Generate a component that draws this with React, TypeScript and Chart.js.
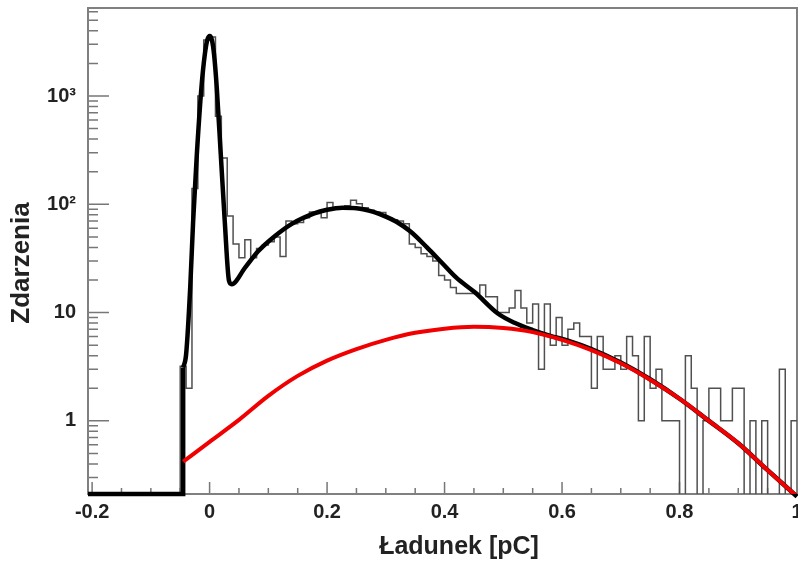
import React, { useEffect, useRef } from "react";
import { Chart, registerables } from "chart.js";

Chart.register(...registerables);

// ---- axis ranges ----
const X_MIN = -0.207;
const X_MAX = 1.0;
const Y_MIN = 0.211;
const Y_MAX = 6500;

// ---- ticks ----
const xMajorTicks = [-0.2, 0, 0.2, 0.4, 0.6, 0.8, 1.0];
const xTickLabels = ["-0.2", "0", "0.2", "0.4", "0.6", "0.8", "1"];
const xMinorTicks = [-0.15, -0.1, -0.05, 0.05, 0.1, 0.15, 0.25, 0.3, 0.35, 0.45, 0.5, 0.55, 0.65, 0.7, 0.75, 0.85, 0.9, 0.95];
const yMajorTicks = [1, 10, 100, 1000];
const yTickLabels = ["1", "10", "10²", "10³"];
const yDecades = [0.1, 1, 10, 100, 1000];
const yMantissas = [2, 3, 4, 5, 6, 7, 8, 9];

// ---- histogram (TH1: bins of 0.01 starting at -0.05) ----
const histLow = -0.05;
const binWidth = 0.01;
const histCounts = [
  3.2, 2, 140, 1000, 3300, 3500, 650, 267, 78, 43,
  32, 47, 32, 39, 42, 45, 50, 33, 70, 66,
  68, 75, 85, 82, 75, 104, 90, 92, 97, 109,
  101, 93, 88, 85, 84, 75, 72, 70, 66, 43,
  40, 35, 33, 30, 22, 20, 17, 15, 15, 15,
  15, 18, 14, 14, 10, 10, 11, 16, 11, 8,
  12, 3, 12, 5, 9, 5, 7, 8, 6, 6,
  2, 6, 3, 3, 4, 3, 6, 4, 1, 6,
  2, 3, 1, 1, 1, 0, 4, 2, 0, 1,
  2, 2, 1, 1, 2, 2, 0, 1, 0, 1,
  0, 0, 3, 0, 1,
];

// ---- total fit (black) ----
const fitX = [
  -0.207, -0.045, -0.045, -0.040, -0.033, -0.028, -0.0217, -0.0139, -0.0081, -0.004,
  0.0003, 0.004, 0.0076, 0.0122, 0.019, 0.0258, 0.0331, 0.0376, 0.0604, 0.083,
  0.1114, 0.14, 0.177, 0.2, 0.226, 0.25, 0.279, 0.3, 0.318, 0.342,
  0.37, 0.395, 0.42, 0.452, 0.4907, 0.52, 0.55, 0.58, 0.61, 0.65,
  0.7, 0.75, 0.8, 0.85, 0.9, 0.95, 1.0,
];
const fitY = [
  0.211, 0.211, 3.1, 4.1, 17, 70, 290, 1195, 2430, 3280,
  3590, 3280, 2430, 1195, 290, 70, 19.6, 18.3, 26, 37,
  51, 66, 82, 89, 93, 92, 85, 77, 69, 56,
  40, 29, 21, 15.3, 9.8, 8.0, 6.9, 6.1, 5.5, 4.6,
  3.45, 2.42, 1.6, 1.0, 0.62, 0.35, 0.2,
];

// ---- component (red) ----
const redX = [-0.045, 0, 0.05, 0.1, 0.15, 0.2, 0.25, 0.3, 0.35, 0.4, 0.45, 0.5, 0.55, 0.6, 0.65, 0.7, 0.75, 0.8, 0.85, 0.9, 0.95, 1.0];
const redY = [0.42, 0.64, 1.02, 1.7, 2.6, 3.6, 4.6, 5.6, 6.5, 7.1, 7.4, 7.2, 6.6, 5.6, 4.5, 3.4, 2.4, 1.6, 1.0, 0.62, 0.35, 0.2];

const X_TITLE = "Ładunek [pC]";
const Y_TITLE = "Zdarzenia";

const FONT = "'Liberation Sans', Arial, sans-serif";

function buildHistPoints() {
  const pts: { x: number; y: number }[] = [];
  const floor = 1e-3;
  pts.push({ x: histLow, y: floor });
  histCounts.forEach((c, i) => {
    pts.push({ x: histLow + i * binWidth, y: c > 0 ? c : floor });
  });
  const last = histCounts[histCounts.length - 1];
  pts.push({ x: histLow + histCounts.length * binWidth, y: last > 0 ? last : floor });
  return pts;
}

const rootFrame = {
  id: "rootFrame",
  beforeDatasetsDraw(chart: any) {
    const { ctx, chartArea: a, scales } = chart;
    const xs = scales.x;
    const ys = scales.y;
    ctx.save();
    ctx.strokeStyle = "#777";
    ctx.lineWidth = 1.5;
    ctx.beginPath();
    for (const v of xMajorTicks) {
      const p = xs.getPixelForValue(v);
      ctx.moveTo(p, a.bottom);
      ctx.lineTo(p, a.bottom - 12);
    }
    for (const v of xMinorTicks) {
      const p = xs.getPixelForValue(v);
      ctx.moveTo(p, a.bottom);
      ctx.lineTo(p, a.bottom - 6);
    }
    for (const v of yMajorTicks) {
      const p = ys.getPixelForValue(v);
      ctx.moveTo(a.left, p);
      ctx.lineTo(a.left + 21, p);
    }
    for (const d of yDecades) {
      for (const m of yMantissas) {
        const v = d * m;
        if (v < Y_MIN || v > Y_MAX) continue;
        const p = ys.getPixelForValue(v);
        ctx.moveTo(a.left, p);
        ctx.lineTo(a.left + 10, p);
      }
    }
    ctx.stroke();
    ctx.lineWidth = 2;
    ctx.strokeStyle = "#808080";
    ctx.strokeRect(a.left, a.top, a.right - a.left, a.bottom - a.top);
    ctx.restore();
  },
  afterDraw(chart: any) {
    const { ctx } = chart;
    ctx.save();
    ctx.fillStyle = "#222";
    ctx.textAlign = "center";
    ctx.textBaseline = "middle";
    ctx.font = `bold 25px ${FONT}`;
    ctx.fillText(X_TITLE, 459, 547);
    ctx.translate(22, 263);
    ctx.rotate(-Math.PI / 2);
    ctx.font = `bold 26px ${FONT}`;
    ctx.fillText(Y_TITLE, 0, 0);
    ctx.restore();
  },
};

export default function App() {
  const ref = useRef<HTMLCanvasElement>(null);

  useEffect(() => {
    const canvas = ref.current;
    if (!canvas) return;
    const fitPts = fitX.map((x, i) => ({ x, y: fitY[i] }));
    const redPts = redX.map((x, i) => ({ x, y: redY[i] }));
    const chart = new Chart(canvas, {
      type: "line",
      data: {
        datasets: [
          {
            label: "component",
            data: redPts,
            borderColor: "rgb(240,0,0)",
            borderWidth: 4,
            pointRadius: 0,
            cubicInterpolationMode: "monotone",
            fill: false,
          } as any,
          {
            label: "fit",
            data: fitPts.slice(2),
            borderColor: "#000",
            borderWidth: 4.5,
            pointRadius: 0,
            cubicInterpolationMode: "monotone",
            fill: false,
            clip: 6,
          } as any,
          {
            label: "fit-base",
            data: fitPts.slice(0, 3),
            borderColor: "#000",
            borderWidth: 4.5,
            pointRadius: 0,
            tension: 0,
            fill: false,
            clip: 6,
          } as any,
          {
            label: "hist",
            data: buildHistPoints(),
            borderColor: "rgb(80,80,80)",
            borderWidth: 1.5,
            pointRadius: 0,
            stepped: true,
            fill: false,
          } as any,
        ],
      },
      options: {
        animation: false,
        responsive: false,
        devicePixelRatio: 1,
        layout: { padding: { left: 8, top: 8, right: 1, bottom: 0 } },
        plugins: { legend: { display: false }, tooltip: { enabled: false } },
        scales: {
          x: {
            type: "linear",
            min: X_MIN,
            max: X_MAX,
            grid: { display: false, drawTicks: false },
            border: { display: false },
            afterBuildTicks: (s: any) => {
              s.ticks = xMajorTicks.map((v) => ({ value: v }));
            },
            afterFit: (s: any) => {
              s.height = 73;
              s.paddingLeft = 0;
              s.paddingRight = 0;
            },
            ticks: {
              autoSkip: false,
              maxRotation: 0,
              minRotation: 0,
              padding: 6,
              color: "#222",
              font: { family: FONT, size: 20, weight: "bold" },
              callback: (v: any) => {
                const i = xMajorTicks.findIndex((t) => Math.abs(t - Number(v)) < 1e-9);
                return i >= 0 ? xTickLabels[i] : "";
              },
            },
          },
          y: {
            type: "logarithmic",
            min: Y_MIN,
            max: Y_MAX,
            grid: { display: false, drawTicks: false },
            border: { display: false },
            afterBuildTicks: (s: any) => {
              s.ticks = yMajorTicks.map((v) => ({ value: v }));
            },
            afterFit: (s: any) => {
              s.width = 80;
              s.paddingTop = 0;
              s.paddingBottom = 0;
            },
            ticks: {
              autoSkip: false,
              padding: 12,
              color: "#222",
              font: { family: FONT, size: 20, weight: "bold" },
              callback: (v: any) => {
                const i = yMajorTicks.findIndex((t) => Math.abs(t - Number(v)) < 1e-6);
                return i >= 0 ? yTickLabels[i] : "";
              },
            },
          },
        },
      } as any,
      plugins: [rootFrame],
    });
    return () => chart.destroy();
  }, []);

  return (
    <div style={{ position: "absolute", left: 0, top: 0, width: 798, height: 567, background: "#fff" }}>
      <canvas ref={ref} width={798} height={567} style={{ display: "block", width: 798, height: 567 }} />
    </div>
  );
}
